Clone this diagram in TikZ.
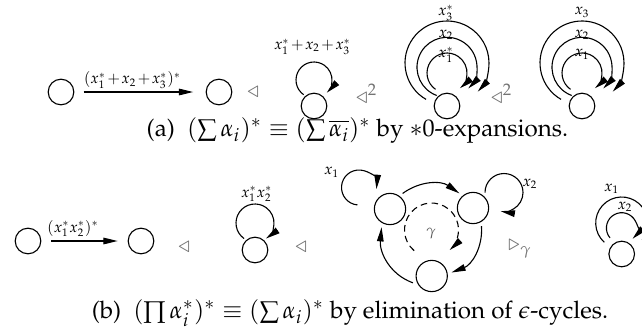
\documentclass[tikz,border=0pt]{standalone}
\usepackage[T1]{fontenc}
\usepackage{amsmath}
\usepackage{amssymb}
\usepackage{mathpazo}
\usetikzlibrary{arrows.meta, calc}

\begin{document}
\begin{tikzpicture}[x=0.016cm, y=0.016cm,
    >={Triangle[length=6.5pt, width=3pt]}, line width=0.5pt,
    state/.style={draw, circle, minimum size=0.41cm, inner sep=0pt},
    bigstate/.style={draw, circle, minimum size=0.5cm, inner sep=0pt, outer sep=2pt},
    lbl/.style={font=\fontsize{7}{8}\selectfont, inner sep=0pt,
      execute at begin node={\medmuskip=1.5mu plus 1mu\relax}},
    rel/.style={text=black!55, font=\normalsize, inner sep=0pt},
    capt/.style={font=\fontsize{11}{13}\selectfont, inner sep=0pt}]
  \useasboundingbox (0,0) rectangle (642,331);
  \clip (0,0) rectangle (642,331);

  % (a) single transition
  \node[state] (a1) at (61,239) {};
  \node[state] (a2) at (219,239) {};
  \draw[->, shorten <=0.15cm, shorten >=0.2cm] (a1) -- (a2);
  \node[lbl] (la1) at (132.5,251) {$(x_1^*+x_2+x_3^*)^*$};
  \node[rel] (t1) at (253,239) {$\triangleleft$};

  % (a) one loop
  \node[state] (a3) at (314,225) {};
  \coordinate (a3c) at ($(a3)+(0,26)$);
  \draw[->] ([shift={(235:18)}]a3c) arc[start angle=235, end angle=-45, radius=18];
  \node[lbl] (la3) at ($(a3)+(-1.5,59.5)$) {$x_1^*+x_2+x_3^*$};
  \node[rel] (t2) at (366.5,237) {$\triangleleft^2$};

  % (a) three loops, starred
  \node[state] (a4) at (447,225) {};
  \foreach \d/\r/\s/\e in {33/20/235/-50, 38.7/30/250/-45, 43/42/240/-43}
    \draw[->] ([shift={(\s:\r)}]$(a4)+(0,\d)$) arc[start angle=\s, end angle=\e, radius=\r];
  \node[lbl] (la4c) at ($(a4)+(-1,93.5)$) {$x_3^*$};
  \node[lbl] (la4b) at ($(a4)+(-1,71)$) {$x_2$};
  \node[lbl] (la4a) at ($(a4)+(-1,51.5)$) {$x_1^*$};
  \node[rel] (t3) at (501.5,237.5) {$\triangleleft^2$};

  % (a) three loops
  \node[state] (a5) at (582,225) {};
  \foreach \d/\r/\s/\e in {33/20/235/-50, 38.7/30/250/-45, 43/42/240/-43}
    \draw[->] ([shift={(\s:\r)}]$(a5)+(0,\d)$) arc[start angle=\s, end angle=\e, radius=\r];
  \node[lbl] (la5c) at ($(a5)+(0,93.5)$) {$x_3$};
  \node[lbl] (la5b) at ($(a5)+(0,71)$) {$x_2$};
  \node[lbl] (la5a) at ($(a5)+(0,51.5)$) {$x_1$};

  \node[capt] (capa) at (357.5,200.5)
    {(a)\enspace$(\sum\alpha_i)^*\equiv(\sum\overline{\alpha_i})^*$ by $\ast$0-expansions.};

  % (b) single transition
  \node[state] (b1) at (28,90) {};
  \node[state] (b2) at (141,90) {};
  \draw[->, shorten <=0.16cm, shorten >=0.16cm] (b1) -- (b2);
  \node[lbl] (lb1) at (73,102.7) {$(x_1^*x_2^*)^*$};
  \node[rel] (t4) at (184,84) {$\triangleleft$};

  % (b) one loop
  \node[state] (b3) at (255,81) {};
  \coordinate (b3c) at ($(b3)+(0,27)$);
  \draw[->] ([shift={(235:19)}]b3c) arc[start angle=235, end angle=-55, radius=19];
  \node[lbl] (lb3) at ($(b3)+(1.7,56)$) {$x_1^*x_2^*$};
  \node[rel] (t5) at (301,84) {$\triangleleft$};

  % (b) epsilon-cycle
  \node[bigstate] (L) at (390,122) {};
  \node[bigstate] (R) at (473,123) {};
  \node[bigstate] (B) at (431.7,55) {};
  \draw[->] (L.51) to[out=36, in=145] (R.133);
  \draw[->] (R.-65) to[out=-86, in=21] (B.10);
  \draw[->] (B.200) to[out=160, in=-95] (L.245);
  \coordinate (Lc) at ($(L)+(-31,21.5)$);
  \draw[->] ([shift={(265:17.5)}]Lc) arc[start angle=265, end angle=-5, radius=17.5];
  \node[lbl] (lL) at ($(L)+(-58.3,36.5)$) {$x_1$};
  \coordinate (Rc) at ($(R)+(31,15.5)$);
  \draw[->] ([shift={(180:19)}]Rc) arc[start angle=180, end angle=-100, radius=19];
  \node[lbl] (lR) at ($(R)+(57,24)$) {$x_2$};
  \coordinate (g) at (431.5,101);
  \draw[->, dash pattern=on 3pt off 2pt] ([shift={(230:27)}]g) arc[start angle=230, end angle=-48, radius=27];
  \node[lbl, text=black!65] (lg) at (431,97) {$\gamma$};
  \node[rel] (t6) at (520,82) {$\triangleright_\gamma$};

  % (b) two loops, cut at the edge
  \node[state] (c1) at (621.7,77) {};
  \draw[->] ([shift={(220:15.3)}]$(c1)+(0,26)$) arc[start angle=220, end angle=-45, radius=15.3];
  \draw[->] ([shift={(228:26)}]$(c1)+(0,31)$) arc[start angle=228, end angle=-40, radius=26];
  \node[lbl] (lc1) at ($(c1)+(-10,65)$) {$x_1$};
  \node[lbl] (lc2) at ($(c1)+(3.3,47)$) {$x_2$};

  \node[capt] (capb) at (350,17.7)
    {(b)\enspace$(\prod\alpha_i^*)^*\equiv(\sum\alpha_i)^*$ by elimination of $\epsilon$-cycles.};
\end{tikzpicture}
\end{document}
